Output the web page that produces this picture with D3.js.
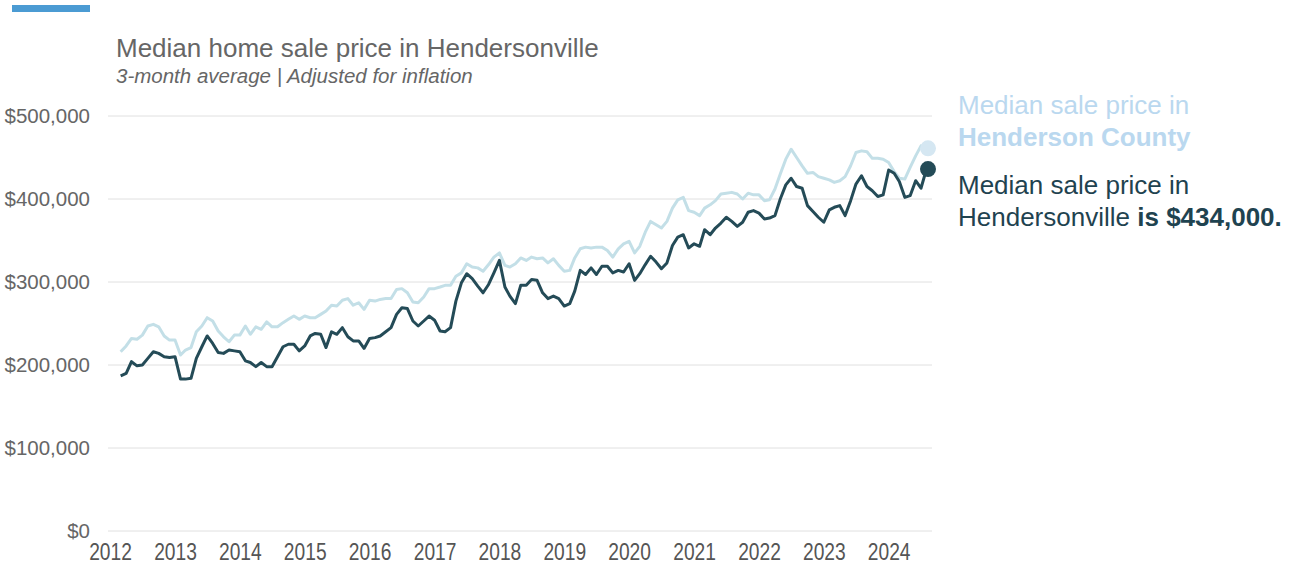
<!DOCTYPE html>
<html>
<head>
<meta charset="utf-8">
<title>Median home sale price in Hendersonville</title>
<style>
  body { margin: 0; background: #fff; font-family: "Liberation Sans", Arial, sans-serif; }
  svg { display: block; }
</style>
</head>
<body>
<script src="https://cdn.jsdelivr.net/npm/d3@7"></script>
<script>
// monthly 3-month averages, Mar 2012 .. Aug 2024 (in $1,000s)
var startMonth = "2012-03";
var hendersonville = [
  187, 190, 204, 199, 200, 208, 216, 214, 210, 209,
  210, 183, 183, 184, 208, 222, 235, 226, 215, 214, 218, 217,
  216, 205, 203, 198, 203, 198, 198, 210, 222, 225, 225, 217,
  223, 235, 238, 237, 221, 240, 237, 245, 234, 229, 229, 220,
  232, 233, 235, 240, 245, 261, 269, 268, 253, 247, 253, 259,
  254, 241, 240, 245, 277, 299, 310, 304, 295, 287, 297, 311,
  326, 294, 283, 274, 296, 296, 303, 302, 287, 280, 283, 280,
  271, 274, 289, 314, 309, 317, 309, 319, 319, 311, 314, 312,
  322, 302, 310, 321, 331, 324, 316, 323, 344, 354, 357, 341,
  346, 343, 363, 357, 365, 371, 378, 373, 367, 372, 384, 386,
  383, 376, 377, 380, 400, 417, 425, 415, 413, 392, 385, 378,
  372, 387, 390, 392, 380, 398, 418, 428, 415, 410, 403, 405,
  435, 431, 421, 402, 404, 422, 413, 436
];
var hendersonCounty = [
  216, 223, 232, 231, 236, 247, 249, 246, 235, 230,
  230, 212, 218, 221, 240, 247, 257, 253, 241, 234, 228, 236,
  236, 247, 237, 246, 243, 252, 246, 246, 251, 255, 259, 255,
  259, 257, 257, 261, 265, 272, 271, 278, 280, 272, 275, 267,
  278, 277, 279, 280, 280, 291, 292, 287, 276, 275, 282, 292,
  292, 294, 296, 296, 307, 311, 322, 318, 317, 313, 321, 330,
  335, 320, 318, 322, 329, 326, 330, 328, 329, 323, 328, 320,
  313, 314, 329, 340, 342, 341, 342, 342, 338, 330, 340, 346,
  349, 335, 343, 360, 373, 369, 365, 373, 389, 399, 402, 386,
  384, 380, 389, 393, 398, 406, 407, 408, 406, 400, 407, 405,
  405, 398, 399, 412, 430, 448, 460, 450, 440, 431, 432, 427,
  425, 423, 420, 422, 427, 440, 456, 458, 457, 449, 449, 448,
  444, 433, 425, 424, 438, 452, 464, 461
];
var yTicks = [0, 100000, 200000, 300000, 400000, 500000];
var xTickYears = [2012, 2013, 2014, 2015, 2016, 2017, 2018, 2019, 2020, 2021, 2022, 2023, 2024];

var width = 1291, height = 566;
var darkColor = "#244b57", lightColor = "#c3dfe7";

var parseMonth = d3.timeParse("%Y-%m");
var t0 = parseMonth(startMonth);
function toSeries(arr) {
  return arr.map(function(v, i) { return { date: d3.timeMonth.offset(t0, i), value: v * 1000 }; });
}
var cityData = toSeries(hendersonville);
var countyData = toSeries(hendersonCounty);

var x = d3.scaleTime()
    .domain([new Date(2012, 0, 1), new Date(2024, 8, 1)])
    .range([110, 932]);
var y = d3.scaleLinear()
    .domain([0, 500000])
    .range([531, 116]);

var svg = d3.select("body").append("svg")
    .attr("width", width)
    .attr("height", height);

// accent bar
svg.append("rect")
    .attr("x", 12).attr("y", 5)
    .attr("width", 78).attr("height", 7)
    .attr("fill", "#4b9bd3");

// title
svg.append("text")
    .attr("x", 116).attr("y", 57)
    .attr("fill", "#666")
    .style("font-size", "26px")
    .text("Median home sale price in Hendersonville");
svg.append("text")
    .attr("x", 116).attr("y", 83)
    .attr("fill", "#666")
    .style("font-size", "20.5px")
    .style("font-style", "italic")
    .text("3-month average | Adjusted for inflation");

// gridlines
svg.append("g").selectAll("line")
    .data(yTicks)
    .enter().append("line")
    .attr("x1", 108).attr("x2", 932)
    .attr("y1", function(d) { return y(d); })
    .attr("y2", function(d) { return y(d); })
    .attr("stroke", "#e0e0e0")
    .attr("stroke-width", 1);

// y axis labels
var yAxis = d3.axisLeft(y)
    .tickValues(yTicks)
    .tickSize(0)
    .tickPadding(0)
    .tickFormat(function(d) { return "$" + d3.format(",")(d); });
var gy = svg.append("g")
    .attr("transform", "translate(90,0)")
    .call(yAxis);
gy.select(".domain").remove();
gy.selectAll("text")
    .attr("fill", "#666")
    .style("font-family", "Liberation Sans, Arial, sans-serif")
    .style("font-size", "20.5px")
    .attr("dy", "0.3em");

// x axis labels (condensed like the original)
var xAxis = d3.axisBottom(x)
    .tickValues(xTickYears.map(function(yr) { return new Date(yr, 0, 1); }))
    .tickSize(0)
    .tickPadding(0)
    .tickFormat(d3.timeFormat("%Y"));
var gx = svg.append("g")
    .attr("transform", "translate(0,543)")
    .call(xAxis);
gx.select(".domain").remove();
gx.selectAll("text")
    .attr("fill", "#555")
    .attr("transform", "scale(0.8,1)")
    .style("font-family", "Liberation Sans, Arial, sans-serif")
    .style("font-size", "24px");

// lines
var line = d3.line()
    .x(function(d) { return x(d.date); })
    .y(function(d) { return y(d.value); });

svg.append("path")
    .datum(countyData)
    .attr("d", line)
    .attr("fill", "none")
    .attr("stroke", lightColor)
    .attr("stroke-width", 3)
    .attr("stroke-linejoin", "round");

svg.append("path")
    .datum(cityData)
    .attr("d", line)
    .attr("fill", "none")
    .attr("stroke", darkColor)
    .attr("stroke-width", 3)
    .attr("stroke-linejoin", "round");

// end dots
var lastCounty = countyData[countyData.length - 1];
var lastCity = cityData[cityData.length - 1];
svg.append("circle")
    .attr("cx", x(lastCounty.date) + 1.5).attr("cy", y(lastCounty.value))
    .attr("r", 8).attr("fill", "#d5e7f2");
svg.append("circle")
    .attr("cx", x(lastCity.date) + 1.5).attr("cy", y(lastCity.value))
    .attr("r", 8).attr("fill", darkColor);

// labels on the right
var legend = svg.append("g").style("font-size", "26px");
var t1 = legend.append("text").attr("x", 958).attr("y", 114).attr("fill", "#bad8ef");
t1.append("tspan").text("Median sale price in");
t1.append("tspan").attr("x", 958).attr("dy", 32).style("font-weight", "bold").text("Henderson County");

var t2 = legend.append("text").attr("x", 958).attr("y", 194).attr("fill", "#1f4350");
t2.append("tspan").text("Median sale price in");
t2.append("tspan").attr("x", 958).attr("dy", 32).text("Hendersonville ");
t2.append("tspan").style("font-weight", "bold").text("is $" + d3.format(",")(434000) + ".");
</script>
</body>
</html>
